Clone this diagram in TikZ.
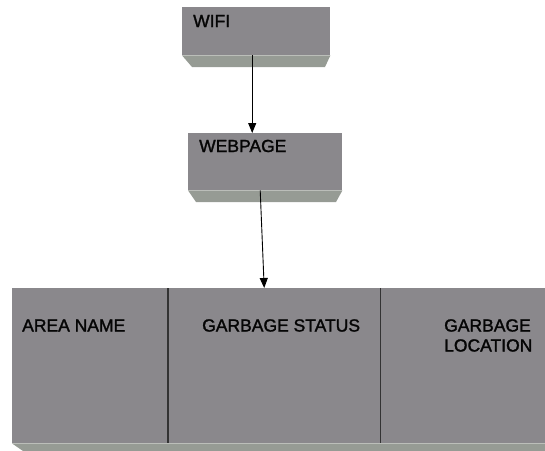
\documentclass[tikz,border=0pt]{standalone}
\usepackage{fontspec}
\setmainfont{Liberation Sans}
\newfontfamily\lblfont[FakeBold=1.6]{Liberation Sans}
\usetikzlibrary{arrows.meta}
\definecolor{facegray}{RGB}{138,136,140}
\definecolor{bevelgray}{RGB}{150,155,148}
\definecolor{txt}{RGB}{5,5,5}
\tikzset{
  face/.style={fill=facegray, draw=none, inner sep=0pt, anchor=north west},
  bevel/.style={fill=bevelgray, draw=none},
  lbl/.style={inner sep=0pt, anchor=base west, text=txt, font=\lblfont\fontsize{17.5pt}{20pt}\selectfont, align=left},
  divider/.style={draw=black!80, line width=1.1pt},
  arr/.style={draw=black, line width=0.9pt, -{Triangle[length=10pt,width=8pt]}}
}
\begin{document}
\begin{tikzpicture}[x=1pt,y=-1pt]
\useasboundingbox (0,0) rectangle (545,450);
% WIFI box
\node[face, minimum width=148pt, minimum height=48pt] (wifi) at (182,7) {};
\fill[bevel] (wifi.south west) -- (wifi.south east) -- (325,67) -- (192,67) -- cycle;
\node[lbl] (wifitxt) at (193,27) {WIFI};
% WEBPAGE box
\node[face, minimum width=154pt, minimum height=57pt] (web) at (188,133) {};
\fill[bevel] (web.south west) -- (web.south east) -- (336,202) -- (196,202) -- cycle;
\node[lbl] (webtxt) at (199,152) {WEBPAGE};
% table
\node[face, minimum width=156pt, minimum height=155pt] (area) at (12,288) {};
\node[face, minimum width=212pt, minimum height=155pt] (status) at (168,288) {};
\node[face, minimum width=166pt, minimum height=155pt] (loc) at (380,288) {};
\fill[bevel] (area.south west) -- (loc.south east) -- (545,451) -- (23,451) -- cycle;
\draw[divider] (status.north west) -- (status.south west);
\draw[divider] (status.north east) -- (status.south east);
\node[lbl] (areatxt) at (22,331.5) {AREA NAME};
\node[lbl] (stattxt) at (202,331.5) {GARBAGE STATUS};
\node[lbl] (loctxt) at (444,351.5) {GARBAGE\\LOCATION};
% connectors
\draw[arr] ([xshift=-4pt]wifi.south) -- ([xshift=-13pt]web.north);
\draw[arr] ([xshift=-5pt]web.south) -- ([xshift=-10pt]status.north);
\end{tikzpicture}
\end{document}
